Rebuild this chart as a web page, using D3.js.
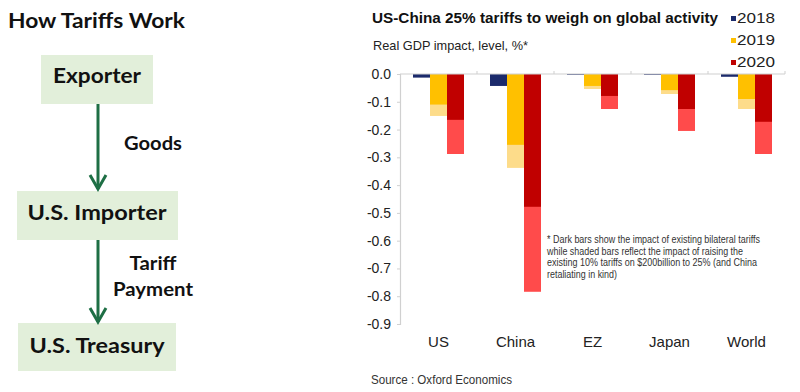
<!DOCTYPE html>
<html>
<head>
<meta charset="utf-8">
<script src="https://cdn.jsdelivr.net/npm/d3@7"></script>
<style>
  html, body { margin: 0; padding: 0; background: #fff; }
  svg { display: block; }
</style>
</head>
<body>
<svg id="chart" width="800" height="392"></svg>
<script>
// ---------- data ----------
const categories = ["US", "China", "EZ", "Japan", "World"];
const years = ["2018", "2019", "2020"];
const existing2018 = [-0.013, -0.043, -0.002, -0.003, -0.010];
const existing2019 = [-0.110, -0.255, -0.043, -0.058, -0.090];
const total2019    = [-0.151, -0.338, -0.054, -0.072, -0.126];
const existing2020 = [-0.165, -0.478, -0.079, -0.126, -0.172];
const total2020    = [-0.288, -0.784, -0.126, -0.205, -0.288];
const yTicks = [0, -0.1, -0.2, -0.3, -0.4, -0.5, -0.6, -0.7, -0.8, -0.9];
const title = "US-China 25% tariffs to weigh on global activity";
const subtitle = "Real GDP impact, level, %*";
const footnote = [
  "* Dark bars show the impact of existing bilateral tariffs",
  "while shaded bars reflect the impact of raising the",
  "existing 10% tariffs on $200billion to 25% (and China",
  "retaliating in kind)"
];
const source = "Source : Oxford Economics";
const flowTitle = "How Tariffs Work";
const flowBoxes = ["Exporter", "U.S. Importer", "U.S. Treasury"];
const flowLabels = [["Goods"], ["Tariff", "Payment"]];

// ---------- styles ----------
const darkColors = {"2018": "#1b2a6b", "2019": "#ffc000", "2020": "#c00000"};
const shadeColors = {"2019": "#fddc8a", "2020": "#ff4b4b"};
const svg = d3.select("#chart");
const arial = "'Liberation Sans', Arial, sans-serif";
const cal = "Lato, 'Open Sans', sans-serif";

// ---------- left flow diagram ----------
const left = svg.append("g");
left.append("text").attr("x", 8).attr("y", 28)
  .attr("font-family", cal).attr("font-weight", 700).attr("font-size", 21)
  .attr("fill", "#111").attr("textLength", 177).attr("lengthAdjust", "spacingAndGlyphs")
  .text(flowTitle);

const boxGeom = [
  {x: 41, y: 55, w: 112, h: 49, tw: 88, by: 83},
  {x: 17, y: 191, w: 161, h: 49, tw: 139, by: 220},
  {x: 18, y: 323, w: 158, h: 48, tw: 135, by: 353}
];
const arrowColor = "#1e6f45";
flowBoxes.forEach(function (label, i) {
  const b = boxGeom[i];
  left.append("rect").attr("x", b.x).attr("y", b.y).attr("width", b.w).attr("height", b.h)
    .attr("fill", "#e2efda");
  left.append("text").attr("x", 97).attr("y", b.by).attr("text-anchor", "middle")
    .attr("font-family", cal).attr("font-weight", 700).attr("font-size", 21)
    .attr("fill", "#111").attr("textLength", b.tw).attr("lengthAdjust", "spacingAndGlyphs")
    .text(label);
});
const arrows = [{y1: 104, y2: 190}, {y1: 240, y2: 323}];
arrows.forEach(function (a) {
  left.append("line").attr("x1", 98).attr("x2", 98).attr("y1", a.y1).attr("y2", a.y2 - 1)
    .attr("stroke", arrowColor).attr("stroke-width", 3);
  left.append("path")
    .attr("d", "M90," + (a.y2 - 15) + " L98," + (a.y2 - 1) + " L106," + (a.y2 - 15))
    .attr("fill", "none").attr("stroke", arrowColor).attr("stroke-width", 3);
});
const labelGeom = [
  [{y: 150, w: 58}],
  [{y: 270, w: 47}, {y: 296, w: 80}]
];
flowLabels.forEach(function (lines, i) {
  lines.forEach(function (label, j) {
    left.append("text").attr("x", 153).attr("y", labelGeom[i][j].y).attr("text-anchor", "middle")
      .attr("font-family", cal).attr("font-weight", 700).attr("font-size", 18)
      .attr("fill", "#111").attr("textLength", labelGeom[i][j].w).attr("lengthAdjust", "spacingAndGlyphs")
      .text(label);
  });
});

// ---------- bar chart ----------
const yScale = d3.scaleLinear().domain([0, -0.9]).range([74, 324]);
const x0 = d3.scaleBand().domain(categories).range([400, 785]).paddingInner(0).paddingOuter(0);
const x1 = d3.scaleBand().domain(years).range([13, 64]).padding(0);

const chart = svg.append("g");

chart.append("text").attr("x", 372).attr("y", 23)
  .attr("font-family", arial).attr("font-weight", 700).attr("font-size", 15)
  .attr("fill", "#111").attr("textLength", 346).attr("lengthAdjust", "spacingAndGlyphs")
  .text(title);
chart.append("text").attr("x", 373).attr("y", 50)
  .attr("font-family", arial).attr("font-size", 13.5)
  .attr("fill", "#222").attr("textLength", 155).attr("lengthAdjust", "spacingAndGlyphs")
  .text(subtitle);

// legend
years.forEach(function (yr, i) {
  const ly = 23 + i * 22;
  chart.append("rect").attr("x", 731).attr("y", ly - 7).attr("width", 5).attr("height", 5)
    .attr("fill", darkColors[yr]);
  chart.append("text").attr("x", 737).attr("y", ly)
    .attr("font-family", arial).attr("font-size", 15.5).attr("fill", "#222")
    .attr("textLength", 38).attr("lengthAdjust", "spacingAndGlyphs")
    .text(yr);
});

// y axis
const fmt = function (v) { return v === 0 ? "0.0" : d3.format(".1f")(v).replace("\u2212", "-"); };
const yAxis = d3.axisLeft(yScale).tickValues(yTicks).tickFormat(fmt).tickSize(3).tickPadding(6);
const yg = chart.append("g").attr("transform", "translate(400,0)").call(yAxis);
yg.select(".domain").attr("stroke", "#d0d0d0").attr("stroke-width", 1.2);
yg.selectAll(".tick line").attr("stroke", "#d0d0d0");
yg.selectAll(".tick text").attr("font-family", arial).attr("font-size", 14).attr("fill", "#222");

// bars
const rows = categories.map(function (cat, i) {
  return {
    cat: cat,
    bars: [
      {yr: "2018", dark: existing2018[i], total: null},
      {yr: "2019", dark: existing2019[i], total: total2019[i]},
      {yr: "2020", dark: existing2020[i], total: total2020[i]}
    ]
  };
});
const groups = chart.selectAll("g.catg").data(rows).join("g")
  .attr("class", "catg").attr("transform", function (d) { return "translate(" + x0(d.cat) + ",0)"; });
groups.selectAll("rect.shade").data(function (d) { return d.bars.filter(function (b) { return b.total !== null; }); }).join("rect")
  .attr("class", "shade")
  .attr("x", function (b) { return x1(b.yr); }).attr("width", x1.bandwidth())
  .attr("y", yScale(0)).attr("height", function (b) { return yScale(b.total) - yScale(0); })
  .attr("fill", function (b) { return shadeColors[b.yr]; });
groups.selectAll("rect.dark").data(function (d) { return d.bars; }).join("rect")
  .attr("class", "dark")
  .attr("x", function (b) { return x1(b.yr); }).attr("width", x1.bandwidth())
  .attr("y", yScale(0)).attr("height", function (b) { return Math.max(0.8, yScale(b.dark) - yScale(0)); })
  .attr("fill", function (b) { return darkColors[b.yr]; });

// zero line with category ticks
chart.append("line").attr("x1", 400).attr("x2", 785).attr("y1", yScale(0)).attr("y2", yScale(0))
  .attr("stroke", "#cfcfcf").attr("stroke-width", 1.2);
chart.selectAll("line.cattick").data(categories).join("line")
  .attr("class", "cattick")
  .attr("x1", function (k) { return x0(k) + x0.bandwidth(); })
  .attr("x2", function (k) { return x0(k) + x0.bandwidth(); })
  .attr("y1", yScale(0) - 3).attr("y2", yScale(0))
  .attr("stroke", "#cfcfcf");

// category labels
chart.selectAll("text.catlabel").data(categories).join("text")
  .attr("class", "catlabel")
  .attr("x", function (k) { return x0(k) + x0.bandwidth() / 2; }).attr("y", 347)
  .attr("text-anchor", "middle")
  .attr("font-family", arial).attr("font-size", 15).attr("fill", "#222")
  .text(function (k) { return k; });

// footnote
const fnW = [213, 196, 210, 70];
footnote.forEach(function (line, i) {
  chart.append("text").attr("x", 547).attr("y", 243 + i * 11.7)
    .attr("font-family", arial).attr("font-size", 10.5).attr("fill", "#333")
    .attr("textLength", fnW[i]).attr("lengthAdjust", "spacingAndGlyphs")
    .text(line);
});

// source
chart.append("text").attr("x", 371).attr("y", 384)
  .attr("font-family", arial).attr("font-size", 13.5).attr("fill", "#333")
  .attr("textLength", 141).attr("lengthAdjust", "spacingAndGlyphs")
  .text(source);
</script>
</body>
</html>
